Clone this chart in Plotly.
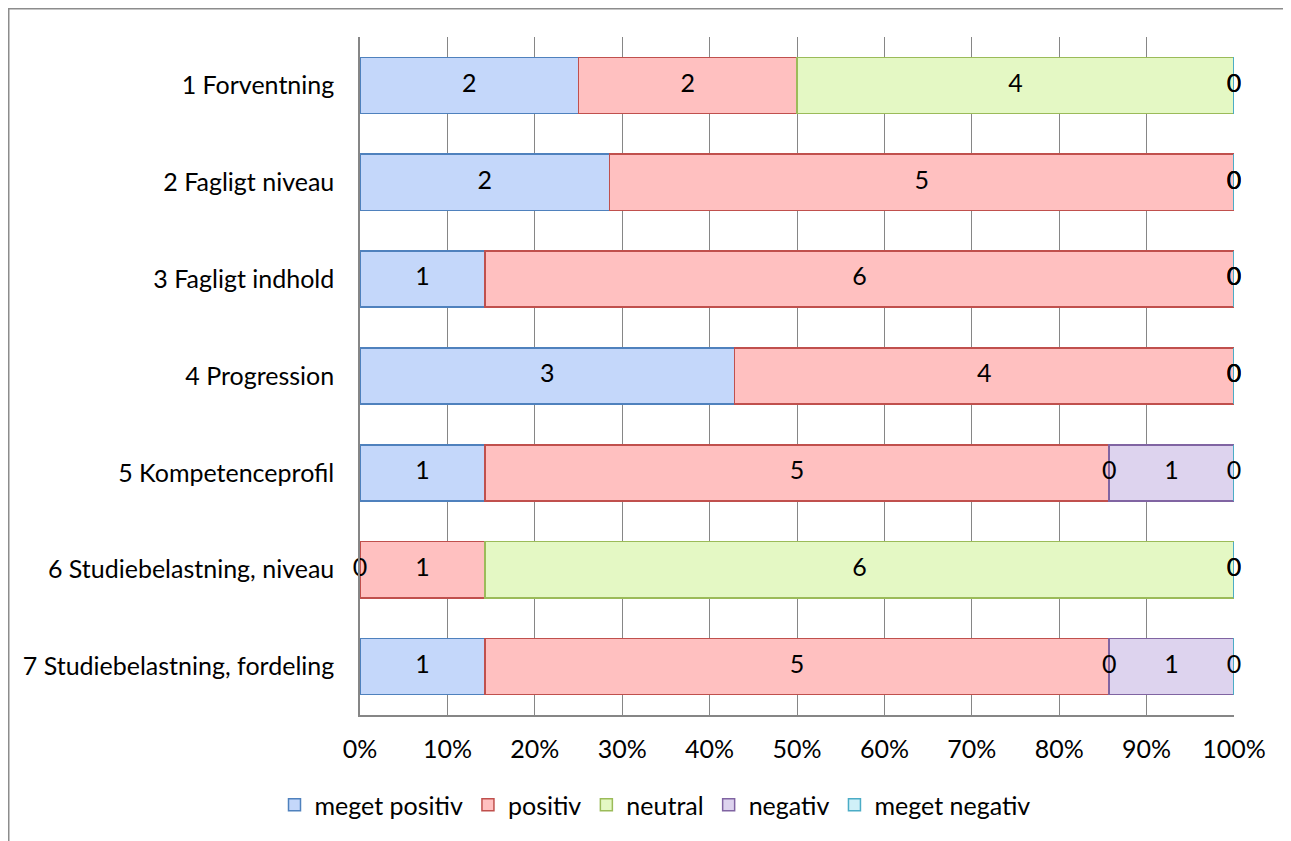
import plotly.graph_objects as go
import numpy as np

categories = ["1 Forventning", "2 Fagligt niveau", "3 Fagligt indhold", "4 Progression",
              "5 Kompetenceprofil", "6 Studiebelastning, niveau", "7 Studiebelastning, fordeling"]
series_names = ["meget positiv", "positiv", "neutral", "negativ", "meget negativ"]
meget_positiv = [2, 2, 1, 3, 1, 0, 1]
positiv = [2, 5, 6, 4, 5, 1, 5]
neutral = [4, 0, 0, 0, 0, 6, 0]
negativ = [0, 0, 0, 0, 1, 0, 1]
meget_negativ = [0, 0, 0, 0, 0, 0, 0]
x_ticks = [0, 10, 20, 30, 40, 50, 60, 70, 80, 90, 100]

fills = ["#c4d7fa", "#ffc0c0", "#e4f8c4", "#ddd3ee", "#d0f0f8"]
lines = ["#4f81bd", "#c0504d", "#9bbb59", "#8064a2", "#4bacc6"]
FONT = "Lato"
FS = 25

series = [meget_positiv, positiv, neutral, negativ, meget_negativ]
fig = go.Figure()
for name, vals, fc, lc in zip(series_names, series, fills, lines):
    fig.add_trace(go.Bar(
        y=categories, x=vals, name=name, orientation="h",
        marker=dict(color=fc, line=dict(color=lc, width=1.5)),
        width=0.58, hoverinfo="skip",
    ))

# data labels at segment centres (percent scale)
arr = np.array(series, dtype=float)
tot = arr.sum(axis=0)
pct = arr / tot * 100
cum = np.cumsum(pct, axis=0)
start = cum - pct
tx, ty, tt = [], [], []
for i in range(len(series)):
    for j in range(len(categories)):
        tx.append(start[i, j] + pct[i, j] / 2)
        ty.append(categories[j])
        tt.append(str(int(arr[i, j])))
fig.add_trace(go.Scatter(x=tx, y=ty, text=tt, mode="text", showlegend=False,
                         textfont=dict(family=FONT, size=FS, color="#000000"),
                         hoverinfo="skip", cliponaxis=False))

W, H = 1291, 841
l, t = 352, 29
r = W - 1226
b = H - 707
pw, ph = W - l - r, H - t - b
fig.add_shape(type="rect", xref="paper", yref="paper",
              x0=(0.75 - l) / pw, x1=(W + 10 - l) / pw,
              y0=(H - b - (H + 10)) / ph, y1=(H - b - 0.75) / ph,
              line=dict(color="#8c8c8c", width=1.5), fillcolor="rgba(0,0,0,0)", layer="below")

fig.update_layout(
    width=W, height=H,
    barmode="stack", barnorm="percent",
    margin=dict(l=l, r=r, t=t, b=b, autoexpand=False),
    paper_bgcolor="white", plot_bgcolor="white",
    font=dict(family=FONT, size=FS, color="#000000"),
    showlegend=True,
    legend=dict(orientation="h", x=(655 - 8 - l) / pw, xanchor="center",
                y=(707 - 797) / ph, yanchor="middle",
                font=dict(family=FONT, size=FS), itemwidth=30, traceorder="normal"),
    xaxis=dict(range=[0, 100], tickvals=x_ticks, ticktext=[f"{v}%" for v in x_ticks],
               showgrid=True, gridcolor="#868686", gridwidth=1,
               showline=True, linecolor="#868686", linewidth=1.5, mirror=False,
               zeroline=False, ticks="", ticklabelstandoff=11, automargin=False,
               tickfont=dict(family=FONT, size=FS)),
    yaxis=dict(categoryorder="array", categoryarray=categories, autorange="reversed",
               showgrid=False, showline=True, linecolor="#868686", linewidth=1.5,
               ticks="", ticklabelstandoff=19, automargin=False,
               tickfont=dict(family=FONT, size=FS)),
)
fig.write_html("out.html")
